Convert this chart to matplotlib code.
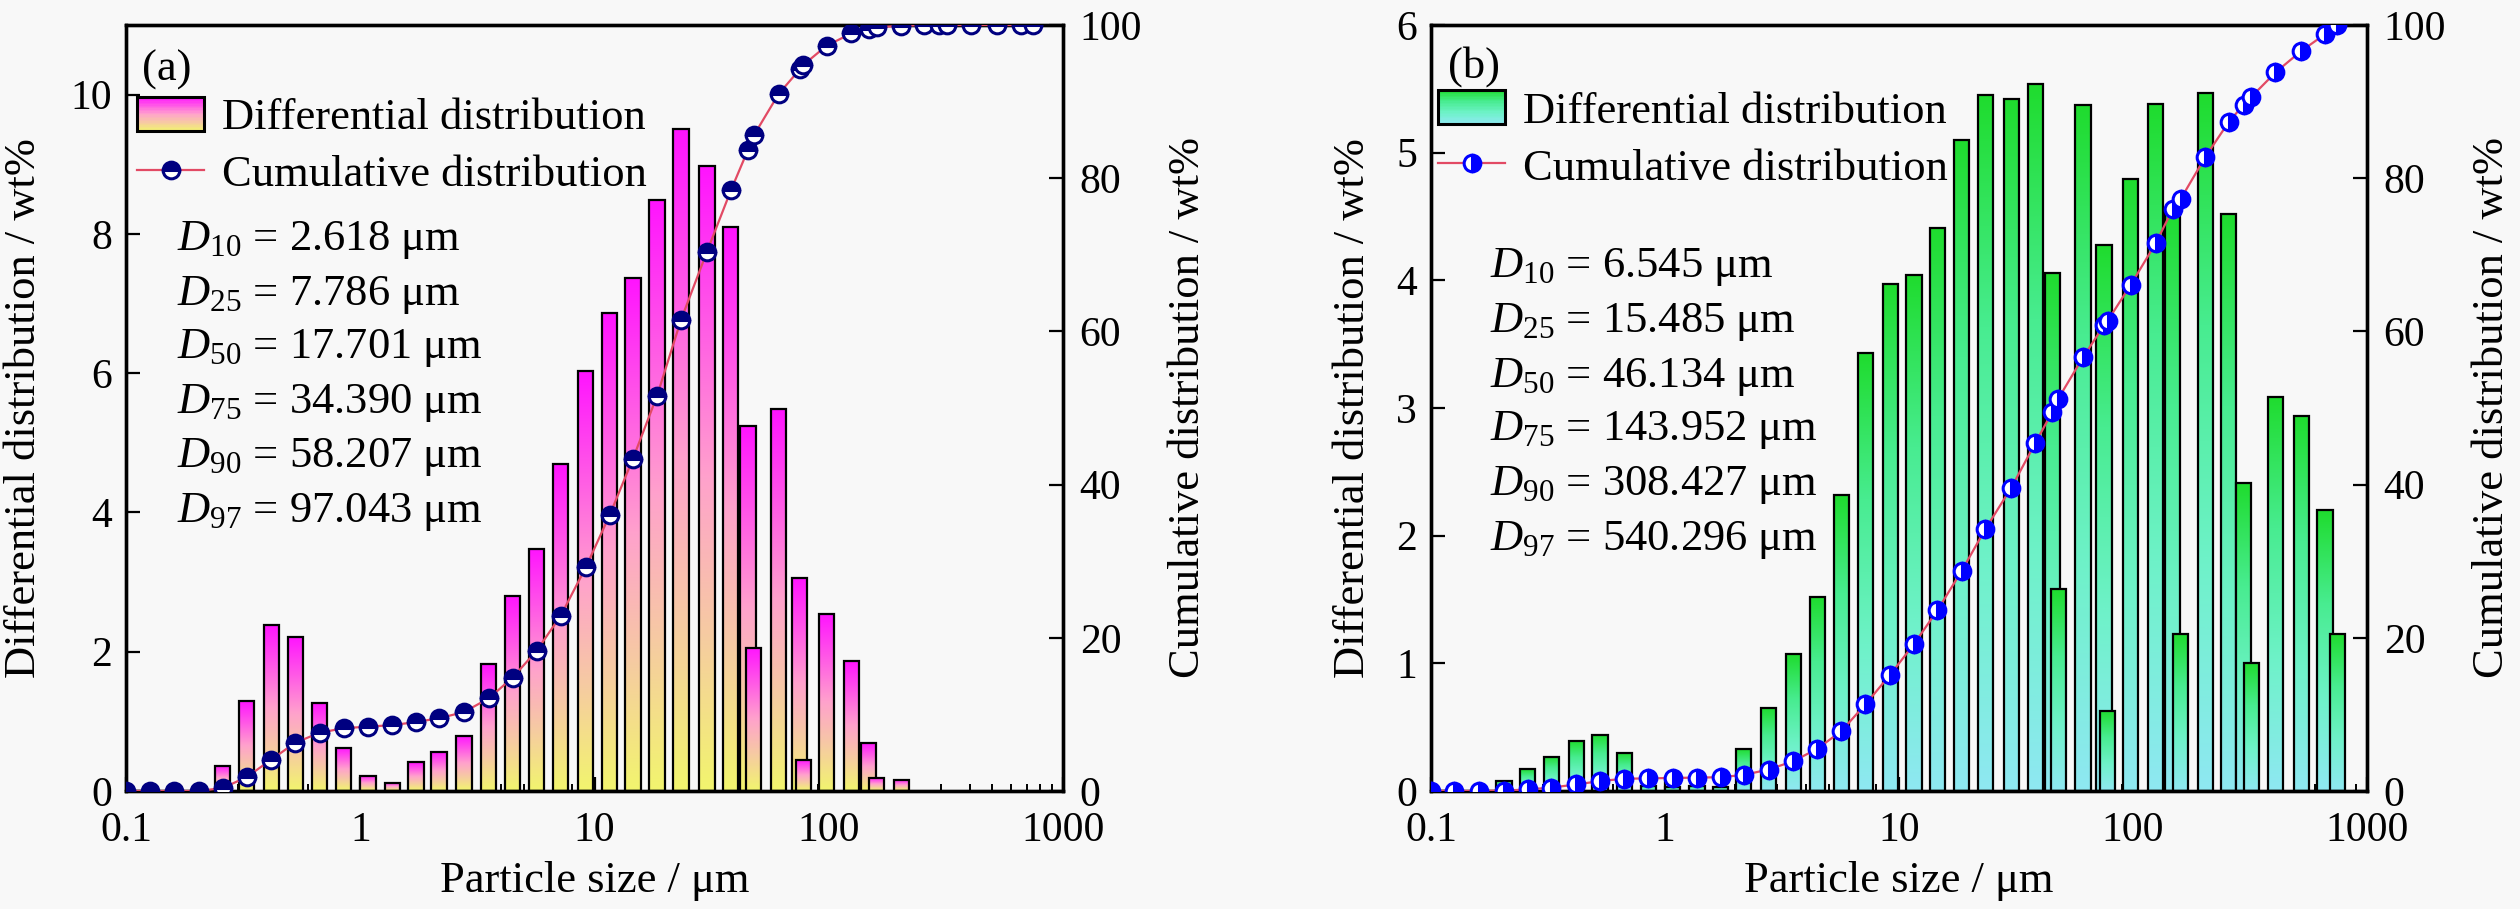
import numpy as np
import matplotlib
matplotlib.use("Agg")
import matplotlib.pyplot as plt
from matplotlib.colors import LinearSegmentedColormap
from matplotlib.legend_handler import HandlerBase
from matplotlib.patches import Rectangle
from matplotlib.lines import Line2D
from matplotlib.ticker import FixedLocator, FixedFormatter, LogLocator, NullFormatter, MultipleLocator

plt.rcParams["font.family"] = "serif"
plt.rcParams["font.serif"] = ["Liberation Serif", "DejaVu Serif"]
plt.rcParams["mathtext.fontset"] = "custom"
plt.rcParams["mathtext.rm"] = "Liberation Serif"
plt.rcParams["mathtext.it"] = "Liberation Serif:italic"

# size classes of the analyser (um)
size_um = [0.100, 0.126, 0.161, 0.205, 0.259, 0.327, 0.417, 0.528, 0.670, 0.849,
           1.08, 1.37, 1.73, 2.17, 2.77, 3.54, 4.47, 5.66, 7.18, 9.18,
           11.6, 14.6, 18.5, 23.4, 30.2, 38.2, 45.2, 47.9, 61.1, 75.2,
           78.0, 97.9, 125, 148, 160, 204, 256, 297, 320, 406,
           523, 662, 748]

# (a)
diff_a = [0, 0, 0, 0, 0.36, 1.29, 2.39, 2.21, 1.27, 0.62,
          0.22, 0.12, 0.41, 0.56, 0.79, 1.82, 2.80, 3.48, 4.70, 6.03,
          6.87, 7.36, 8.49, 9.50, 8.97, 8.10, 5.24, 2.06, 5.48, 3.06,
          0.45, 2.54, 1.87, 0.69, 0.19, 0.16, 0, 0, 0, 0,
          0, 0, 0]
cum_a = [0, 0, 0, 0, 0.4, 1.8, 4.1, 6.3, 7.6, 8.2,
         8.4, 8.6, 9.0, 9.5, 10.3, 12.1, 14.8, 18.3, 22.9, 29.2,
         36.0, 43.4, 51.6, 61.5, 70.4, 78.4, 83.7, 85.6, 91.0, 94.2,
         94.8, 97.3, 98.9, 99.5, 99.7, 99.9, 100, 100, 100, 100,
         100, 100, 100]
dvals_a = ["2.618", "7.786", "17.701", "34.390", "58.207", "97.043"]

# (b)
diff_b = [0, 0, 0, 0.08, 0.17, 0.27, 0.39, 0.44, 0.30, 0.04,
          0.03, 0.04, 0.03, 0.33, 0.65, 1.07, 1.52, 2.32, 3.43, 3.97,
          4.04, 4.41, 5.10, 5.45, 5.42, 5.54, 4.06, 1.58, 5.37, 4.28,
          0.63, 4.79, 5.38, 4.55, 1.23, 5.47, 4.52, 2.41, 1.00, 3.09,
          2.94, 2.20, 1.23]
cum_b = [0, 0, 0, 0.05, 0.2, 0.45, 0.85, 1.3, 1.6, 1.65,
         1.7, 1.75, 1.8, 2.1, 2.8, 3.9, 5.5, 7.8, 11.3, 15.2,
         19.2, 23.6, 28.7, 34.2, 39.6, 45.4, 49.5, 51.2, 56.6, 60.8,
         61.4, 66.1, 71.5, 76.0, 77.3, 82.8, 87.3, 89.6, 90.6, 93.8,
         96.6, 98.8, 100]
dvals_b = ["6.545", "15.485", "46.134", "143.952", "308.427", "540.296"]

d_names = ["10", "25", "50", "75", "90", "97"]
xticks = [0.1, 1, 10, 100, 1000]
xticklabels = ["0.1", "1", "10", "100", "1000"]

cmap_a = LinearSegmentedColormap.from_list(
    "pinkyellow", ["#F2F56E", "#F6CBA2", "#FFA2CC", "#FF5AE6", "#FF14FF"])
cmap_b = LinearSegmentedColormap.from_list(
    "greencyan", ["#8FE8F2", "#6EF2C8", "#48EC90", "#1FDC2E"])

BG = "#F8F8F8"
FS_TICK = 30
FS_LAB = 32
HALF = 0.0325  # half bar width in decades


class GradientHandler(HandlerBase):
    def __init__(self, cmap):
        super().__init__()
        self.cmap = cmap

    def create_artists(self, legend, orig_handle, xdescent, ydescent,
                       width, height, fontsize, trans):
        arts = []
        n = 24
        for i in range(n):
            arts.append(Rectangle((-xdescent, -ydescent + height * i / n), width,
                                  height / n * 1.05,
                                  facecolor=self.cmap((i + 0.5) / n),
                                  edgecolor="none", transform=trans))
        arts.append(Rectangle((-xdescent, -ydescent), width, height,
                              facecolor="none", edgecolor="black",
                              linewidth=2.2, transform=trans))
        return arts


def draw_panel(rect, diff, cum, dvals, cmap, ylim, ystep, mcolor, fill, tag,
               leg_anchor, dx, dys, tag_xy, lab_left):
    ax = fig.add_axes(rect)
    ax.set_facecolor(BG)
    grad = np.linspace(0, 1, 256).reshape(-1, 1)
    for i, (xv, hv) in enumerate(zip(size_um, diff)):
        if hv <= 0:
            continue
        lo = xv * 10 ** (-HALF)
        hi = xv * 10 ** HALF
        ax.imshow(grad, extent=[lo, hi, 0, hv], origin="lower", cmap=cmap,
                  aspect="auto", interpolation="bilinear", zorder=2 + 0.01 * i)
        ax.bar(lo, hv, width=hi - lo, align="edge", fill=False,
               edgecolor="black", linewidth=1.6, zorder=2.005 + 0.01 * i)
    ax.set_xscale("log")
    ax.set_xlim(0.1, 1000)
    ax.set_ylim(*ylim)
    ax.xaxis.set_major_locator(FixedLocator(xticks))
    ax.xaxis.set_major_formatter(FixedFormatter(xticklabels))
    ax.xaxis.set_minor_locator(LogLocator(base=10, subs=np.arange(2, 10)))
    ax.xaxis.set_minor_formatter(NullFormatter())
    ax.yaxis.set_major_locator(MultipleLocator(ystep))
    ax.tick_params(which="major", direction="in", length=10, width=1.6,
                   labelsize=FS_TICK, top=False, right=False, pad=10)
    ax.tick_params(axis="x", which="major", pad=15)
    ax.tick_params(which="minor", direction="in", length=5, width=1.4,
                   top=False, right=False)
    ax.set_xlabel("Particle size / μm", fontsize=FS_LAB)
    ax.xaxis.set_label_coords(0.5, -0.092)
    ax.set_ylabel("Differential distribution / wt%", fontsize=FS_LAB)
    ax.yaxis.set_label_coords(lab_left, 0.5)

    axr = ax.twinx()
    axr.plot(size_um, cum, color="#E24A64", linewidth=1.6, marker="o",
             markersize=12, fillstyle=fill, markerfacecolor=mcolor,
             markerfacecoloralt="white", markeredgecolor=mcolor,
             markeredgewidth=2.2, zorder=5)
    axr.set_ylim(0, 100)
    axr.yaxis.set_major_locator(MultipleLocator(20))
    axr.tick_params(which="major", direction="in", length=10, width=1.6,
                    labelsize=FS_TICK, pad=12)
    axr.set_ylabel("Cumulative distribution / wt%", fontsize=FS_LAB)
    axr.yaxis.set_label_coords(1.112, 0.5)

    for a in (ax, axr):
        for s in a.spines.values():
            s.set_linewidth(2.4)

    bar_proxy = Rectangle((0, 0), 1, 1)
    line_proxy = Line2D([], [], color="#E24A64", linewidth=1.6, marker="o",
                        markersize=12, fillstyle=fill, markerfacecolor=mcolor,
                        markerfacecoloralt="white", markeredgecolor=mcolor,
                        markeredgewidth=2.2)
    axr.legend([bar_proxy, line_proxy],
               ["Differential distribution", "Cumulative distribution"],
               handler_map={bar_proxy: GradientHandler(cmap)},
               loc="upper left", bbox_to_anchor=leg_anchor, frameon=False,
               fontsize=FS_LAB, handlelength=1.5, handleheight=0.8,
               handletextpad=0.4, labelspacing=0.35, borderpad=0,
               borderaxespad=0)

    for name, val, yy in zip(d_names, dvals, dys):
        axr.text(dx, yy, rf"$D_{{{name}}}$ = {val} μm", transform=axr.transAxes,
                 fontsize=FS_LAB, va="baseline", ha="left")
    axr.text(tag_xy[0], tag_xy[1], tag, transform=axr.transAxes,
             fontsize=FS_LAB, va="baseline", ha="left")
    return ax, axr


fig = plt.figure(figsize=(25.2, 9.09), dpi=100, facecolor=BG)

bottom = 1 - 791 / 909
height = (791 - 25) / 909

draw_panel([126 / 2520, bottom, 937 / 2520, height], diff_a, cum_a, dvals_a,
           cmap_a, (0, 11), 2, "#000080", "top", "(a)",
           (0.012, 0.906), 0.054,
           [0.706, 0.634, 0.565, 0.493, 0.423, 0.351], (0.017, 0.928), -0.088)

draw_panel([1431 / 2520, bottom, 936 / 2520, height], diff_b, cum_b, dvals_b,
           cmap_b, (0, 6), 1, "#0000FF", "right", "(b)",
           (0.008, 0.915), 0.063,
           [0.671, 0.599, 0.527, 0.458, 0.386, 0.315], (0.018, 0.931), -0.062)

fig.savefig("out.png", dpi=100, facecolor=BG)
